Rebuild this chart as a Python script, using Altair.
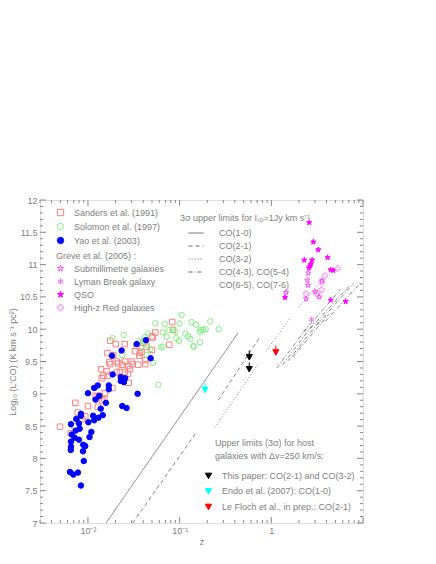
import altair as alt
import pandas as pd

# ---------------- data ----------------
sanders_z = [0.00495, 0.00649, 0.00716, 0.00728, 0.00773, 0.00867, 0.00935, 0.0100, 0.0121, 0.0128,
             0.0128, 0.0135, 0.0142, 0.0151, 0.0153, 0.0185, 0.0147, 0.0139, 0.0160, 0.0166,
             0.0175, 0.0171, 0.0189, 0.0163, 0.0175, 0.0201, 0.0206, 0.0214, 0.0207, 0.0223,
             0.0235, 0.0252, 0.0252, 0.0254, 0.0273, 0.0278, 0.0287, 0.0275, 0.0300, 0.0307,
             0.0326, 0.0340, 0.0363, 0.0385, 0.0402, 0.0422, 0.0422, 0.0430, 0.0370, 0.0499,
             0.0499, 0.0542, 0.0508, 0.0771, 0.0832, 0.0845, 0.0141, 0.0354]
sanders_L = [8.49, 8.39, 8.50, 8.86, 8.71, 8.61, 8.65, 8.81, 8.97, 8.96,
             8.80, 8.96, 8.90, 8.92, 9.01, 9.09, 9.28, 9.38, 9.35, 9.28,
             9.46, 9.49, 9.60, 9.63, 9.82, 9.77, 9.50, 9.47, 9.33, 9.34,
             9.45, 9.33, 9.77, 9.50, 9.31, 9.17, 9.38, 9.43, 9.50, 9.46,
             9.66, 9.74, 9.59, 9.65, 9.79, 9.52, 9.46, 9.73, 9.63, 9.68,
             9.89, 9.95, 9.87, 9.76, 10.11, 9.99, 9.24, 9.45]

solomon_z = [0.105, 0.0687, 0.100, 0.135, 0.151, 0.171, 0.192, 0.216, 0.267, 0.166,
             0.0653, 0.0771, 0.0895, 0.0723, 0.0918, 0.115, 0.124, 0.131, 0.141, 0.167,
             0.0984, 0.0621, 0.0419, 0.0455, 0.0585, 0.0512, 0.0438, 0.0438, 0.0385, 0.0237,
             0.0185, 0.0245, 0.0542, 0.0840, 0.0653, 0.143, 0.181, 0.0370, 0.0475, 0.0410]
solomon_L = [10.22, 10.08, 10.09, 10.11, 10.07, 9.99, 10.00, 10.12, 10.00, 9.96,
             9.95, 9.99, 9.96, 9.88, 9.86, 9.93, 9.89, 9.85, 9.74, 9.80,
             9.82, 9.72, 9.88, 9.93, 9.14, 9.48, 9.60, 9.76, 9.73, 9.60,
             9.86, 9.91, 10.09, 9.99, 9.73, 9.73, 9.99, 9.82, 9.69, 9.82]

yao_z = [0.0183, 0.0233, 0.0340, 0.0430, 0.0483, 0.0186, 0.0228, 0.0228, 0.0255, 0.0247,
         0.0169, 0.0169, 0.0128, 0.0117, 0.0133, 0.0121, 0.0100, 0.0348, 0.0157, 0.0138,
         0.0237, 0.0264, 0.0145, 0.0130, 0.0114, 0.0117, 0.0101, 0.00839, 0.00839, 0.00746,
         0.00798, 0.00653, 0.00735, 0.00665, 0.00716, 0.00798, 0.00653, 0.00653, 0.00649, 0.00889,
         0.00935, 0.00883, 0.0104, 0.0109, 0.00900, 0.00637, 0.00692, 0.00778, 0.00839, 0.00813]
yao_L = [9.59, 9.67, 9.77, 9.83, 9.55, 9.30, 9.26, 9.20, 9.24, 9.18,
         9.13, 9.07, 9.13, 9.09, 8.97, 8.91, 9.01, 9.00, 8.86, 8.77,
         8.81, 8.78, 8.67, 8.63, 8.66, 8.59, 8.56, 8.69, 8.66, 8.61,
         8.54, 8.53, 8.43, 8.37, 8.32, 8.29, 8.26, 8.18, 8.13, 8.21,
         8.19, 8.11, 8.33, 8.41, 7.96, 7.79, 7.75, 7.78, 7.58, 8.46]

smg_z = [2.53, 2.47, 2.51, 1.45, 2.39, 3.01, 3.33, 3.57]
smg_L = [10.87, 10.76, 10.68, 10.57, 10.47, 10.58, 10.50, 10.75]
lbg_z = [2.74]
lbg_L = [10.15]
qso_z = [2.59, 2.87, 3.25, 4.11, 2.29, 2.79, 2.64, 2.57, 2.70, 4.44, 4.73, 1.41, 4.44, 6.47]
qso_L = [11.65, 11.35, 11.23, 11.11, 11.07, 11.07, 10.98, 10.95, 11.01, 10.92, 10.91, 10.49, 10.45, 10.43]
hzr_z = [5.28, 3.85, 3.54, 3.54, 2.39, 3.15]
hzr_L = [10.94, 10.83, 10.73, 10.61, 10.55, 10.55]

# 3-sigma upper-limit lines for I_CO = 1 Jy km/s : segment end points (z, L)
line_seg = ["a", "a", "b", "b", "c", "c", "d", "d", "e", "e", "f", "f",
            "g1", "g1", "g2", "g2", "g3", "g3", "g4", "g4", "u1", "u1", "u2", "u2", "u3", "u3", "u4", "u4"]
line_trans = ["CO(1-0)", "CO(1-0)", "CO(2-1)", "CO(2-1)", "CO(2-1)", "CO(2-1)",
              "CO(3-2)", "CO(3-2)", "CO(3-2)", "CO(3-2)", "CO(3-2)", "CO(3-2)"] + ["CO(4-3), CO(5-4)"] * 16
line_z = [0.01574, 0.4325, 0.0308, 0.1535, 0.2636, 0.751, 0.243, 0.733, 0.875, 1.64, 1.98, 3.39,
          1.15, 2.55, 1.33, 3.01, 1.52, 3.56, 1.71, 4.22, 2.25, 5.65, 2.66, 6.97, 3.15, 7.91, 3.87, 9.73]
line_L = [7.0, 9.94, 7.0, 8.41, 8.90, 9.88, 8.48, 9.48, 9.66, 10.19, 10.34, 10.72,
          9.40, 10.06, 9.45, 10.12, 9.51, 10.17, 9.57, 10.23, 9.96, 10.61, 10.01, 10.66, 10.07, 10.71, 10.12, 10.74]
trans_names = ["CO(1-0)", "CO(2-1)", "CO(3-2)", "CO(4-3), CO(5-4)", "CO(6-5), CO(7-6)"]

# host-galaxy upper limits
lim_ref = ["This paper: CO(2-1) and CO(3-2)", "This paper: CO(2-1) and CO(3-2)",
           "Endo et al. (2007): CO(1-0)", "Le Floch et al., in prep.: CO(2-1)"]
lim_z = [0.575, 0.575, 0.189, 1.12]
lim_L = [9.565, 9.38, 9.06, 9.64]
lim_names = ["This paper: CO(2-1) and CO(3-2)", "Endo et al. (2007): CO(1-0)",
             "Le Floch et al., in prep.: CO(2-1)"]

# tick values of the frame
y_major = [7.0, 7.5, 8.0, 8.5, 9.0, 9.5, 10.0, 10.5, 11.0, 11.5, 12.0]
y_minor = [round(7 + 0.1 * i, 1) for i in range(51) if i % 5]
x_major = [0.01, 0.1, 1.0, 10.0]
x_minor = [m * d for d in (0.001, 0.01, 0.1, 1.0) for m in range(2, 10) if 0.0029 < m * d < 10]

# ---------------- tables ----------------
src_names = ["Sanders et al. (1991)", "Solomon et al. (1997)", "Yao et al. (2003)"]
surveys = pd.concat([
    pd.DataFrame({"z": sanders_z, "L": sanders_L, "src": src_names[0]}),
    pd.DataFrame({"z": solomon_z, "L": solomon_L, "src": src_names[1]}),
    pd.DataFrame({"z": yao_z, "L": yao_L, "src": src_names[2]}),
], ignore_index=True)

greve_names = ["Submillimetre galaxies", "Lyman Break galaxy", "QSO", "High-z Red galaxies"]
greve = pd.concat([
    pd.DataFrame({"z": hzr_z, "L": hzr_L, "typ": greve_names[3]}),
    pd.DataFrame({"z": smg_z, "L": smg_L, "typ": greve_names[0]}),
    pd.DataFrame({"z": lbg_z, "L": lbg_L, "typ": greve_names[1]}),
    pd.DataFrame({"z": qso_z, "L": qso_L, "typ": greve_names[2]}),
], ignore_index=True)

lines = pd.DataFrame({"seg": line_seg, "trans": line_trans, "z": line_z, "L": line_L})
limits = pd.DataFrame({"ref": lim_ref, "z": lim_z, "L": lim_L})

W, H = 323, 323
GRAY = "#808080"
FONT = "Liberation Sans"
xs = alt.Scale(type="log", domain=[0.003, 10], nice=False)
ys = alt.Scale(domain=[7, 12], nice=False, zero=False)

x_axis = alt.Axis(values=[0.01, 0.1, 1], labelExpr="datum.value < 0.05 ? '10⁻²' : datum.value < 0.5 ? '10⁻¹' : '1'",
                  ticks=False, domain=False, grid=False, labelPadding=3, labelFontSize=9, labelColor=GRAY,
                  labelFont=FONT, title="z", titleFont=FONT, titleFontSize=9, titleColor=GRAY,
                  titleFontWeight="normal", titleX=161.5, titleY=18, titleBaseline="middle")
y_axis = alt.Axis(values=y_major, format="~g", ticks=False, domain=False, grid=False, labelPadding=3,
                  labelFontSize=9, labelColor=GRAY, labelFont=FONT,
                  title="Log₁₀ (L′CO)  (K km s⁻¹ pc²)", titleFont=FONT, titleFontSize=9, titleColor=GRAY,
                  titleFontWeight="normal", titleAngle=270, titleBaseline="top", titleAlign="center",
                  titleX=-32, titleY=161.5)


def X(field):
    return alt.X(field, scale=xs, axis=x_axis)


def Y(field):
    return alt.Y(field, scale=ys, axis=y_axis)


def legend(**kw):
    base = dict(orient="none", padding=0, labelFont=FONT, labelFontSize=9, labelColor=GRAY, labelLimit=300,
                titleFont=FONT, titleFontSize=9, titleColor=GRAY, titleFontWeight="normal", symbolStrokeWidth=1)
    base.update(kw)
    return alt.Legend(**base)


# ---------------- frame ticks (pointing inward) ----------------
def xticks(vals, top, length):
    d = pd.DataFrame({"z": vals})
    if top:
        yy, yy2 = alt.value(0), alt.value(length)
    else:
        yy, yy2 = alt.value(H), alt.value(H - length)
    return alt.Chart(d).mark_rule(color="#888888", strokeWidth=1).encode(x=X("z:Q"), y=yy, y2=yy2)


def yticks(vals, right, length):
    d = pd.DataFrame({"L": vals})
    if right:
        xx, xx2 = alt.value(W), alt.value(W - length)
    else:
        xx, xx2 = alt.value(0), alt.value(length)
    return alt.Chart(d).mark_rule(color="#888888", strokeWidth=1).encode(y=Y("L:Q"), x=xx, x2=xx2)


ticks = [xticks(x_major, False, 6), xticks(x_minor, False, 3), xticks(x_major, True, 6), xticks(x_minor, True, 3),
         yticks(y_major, False, 6), yticks(y_minor, False, 3), yticks(y_major, True, 6), yticks(y_minor, True, 3)]

# ---------------- lines ----------------
leg_lines = legend(title="3σ upper limits for I꜀ₒ=1Jy km s⁻¹", legendX=140, legendY=14, symbolOffset=8,
                   symbolSize=225, symbolType="stroke", labelOffset=15, rowPadding=-1.5, titlePadding=2)
line_layer = alt.Chart(lines).mark_line(color="#666666", strokeWidth=0.8).encode(
    x=X("z:Q"), y=Y("L:Q"),
    detail="seg:N",
    strokeDash=alt.StrokeDash("trans:N", scale=alt.Scale(
        domain=trans_names, range=[[1, 0], [4, 3], [1, 2], [4, 2, 1, 2], [0, 100]]), legend=leg_lines),
)

# ---------------- survey points ----------------
leg_src = legend(title=None, legendX=16, legendY=8, symbolSize=40, labelOffset=9, rowPadding=3)
survey_layer = alt.Chart(surveys).mark_point(size=30, strokeWidth=1, opacity=1).encode(
    x=X("z:Q"), y=Y("L:Q"),
    shape=alt.Shape("src:N", scale=alt.Scale(domain=src_names, range=["square", "circle", "circle"]), legend=leg_src),
    stroke=alt.Stroke("src:N", scale=alt.Scale(domain=src_names, range=["#ff8080", "#80f080", "#0000ff"]), legend=leg_src),
    fill=alt.Fill("src:N", scale=alt.Scale(domain=src_names, range=["transparent", "transparent", "#0000ff"]), legend=leg_src),
)

# ---------------- Greve et al. points ----------------
star = ("M0,-1L0.235,-0.324L0.951,-0.309L0.38,0.124L0.588,0.809L0,0.4"
        "L-0.588,0.809L-0.38,0.124L-0.951,-0.309L-0.235,-0.324Z")
asterisk = "M0,-1L0,1M-0.87,-0.5L0.87,0.5M-0.87,0.5L0.87,-0.5"
leg_greve = legend(title="Greve et al. (2005) :", legendX=16, legendY=52, symbolSize=40, labelOffset=9,
                   rowPadding=2, titlePadding=3)
greve_layer = alt.Chart(greve).mark_point(size=30, strokeWidth=1, opacity=1).encode(
    x=X("z:Q"), y=Y("L:Q"),
    shape=alt.Shape("typ:N", scale=alt.Scale(domain=greve_names, range=[star, asterisk, star, "cross"]), legend=leg_greve),
    stroke=alt.Stroke("typ:N", scale=alt.Scale(domain=greve_names, range=["#ff40ff", "#ff60ff", "#ff00ff", "#ff90ff"]), legend=leg_greve),
    fill=alt.Fill("typ:N", scale=alt.Scale(domain=greve_names, range=["transparent", "transparent", "#ff00ff", "transparent"]), legend=leg_greve),
)

# ---------------- host upper limits ----------------
tri_path = "M-0.75,-0.7L0.75,-0.7L0,0.7ZM0,-0.7L0,-1.7"
leg_lim = legend(title=["Upper limits (3σ) for host", "galaxies with Δv=250 km/s:"], legendX=175, legendY=239,
                 symbolType="triangle-down", symbolSize=40, symbolOffset=-11, labelOffset=9, rowPadding=4.5,
                 titlePadding=10, titleLineHeight=13.4)
lim_layer = alt.Chart(limits).mark_point(shape=tri_path, size=64, strokeWidth=1, opacity=1, filled=True).encode(
    x=X("z:Q"), y=Y("L:Q"),
    fill=alt.Fill("ref:N", scale=alt.Scale(domain=lim_names, range=["#000000", "#00ffff", "#ff0000"]), legend=leg_lim),
    stroke=alt.Stroke("ref:N", scale=alt.Scale(domain=lim_names, range=["#000000", "#00ffff", "#ff0000"]), legend=leg_lim),
)

chart = alt.layer(*ticks, line_layer, survey_layer, greve_layer, lim_layer).resolve_scale(
    shape="independent", stroke="independent", fill="independent", strokeDash="independent"
).properties(
    width=W, height=H,
    padding={"left": 32, "top": 192, "right": 12, "bottom": 30},
    autosize=alt.AutoSizeParams(type="none"),
).configure_view(stroke="#888888", strokeWidth=1).configure(background="white", font=FONT)

chart.save("out.html", embed_options={"renderer": "svg", "actions": False})
